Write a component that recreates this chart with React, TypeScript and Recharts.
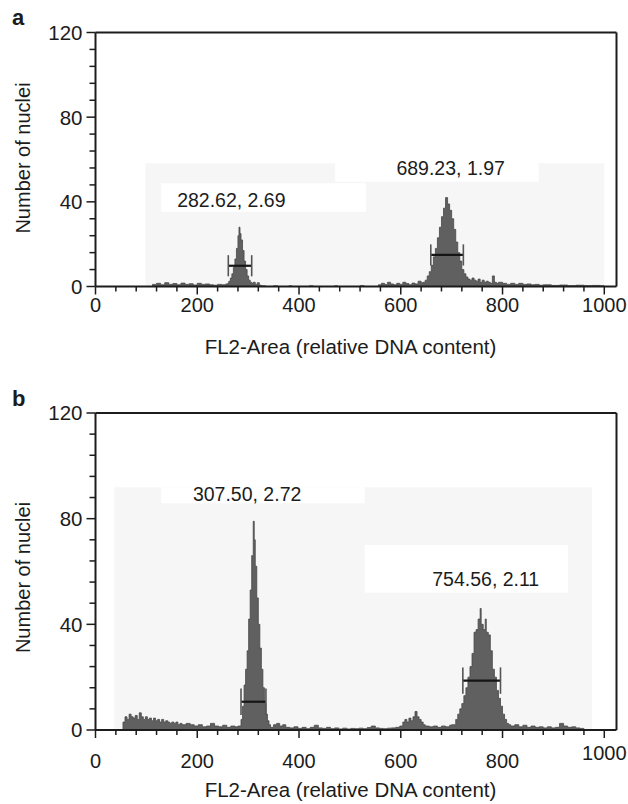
import React from 'react';
import { AreaChart, Area, XAxis, YAxis, ReferenceLine, ReferenceArea, ReferenceDot, Label } from 'recharts';

const FONT = "'Liberation Sans', Arial, Helvetica, sans-serif";
const INK = '#1c1c1c';
const HIST_FILL = '#606060';
const HIST_EDGE = '#474747';
const PANEL_SHADE = '#f6f6f6';

// ---- axes ----
const xTicks = [0, 40, 80, 120, 160, 200, 240, 280, 320, 360, 400, 440, 480, 520, 560, 600, 640, 680, 720, 760, 800, 840, 880, 920, 960, 1000];
const xMajorTicks = [0, 200, 400, 600, 800, 1000];
const yTicks = [0, 8, 16, 24, 32, 40, 48, 56, 64, 72, 80, 88, 96, 104, 112, 120];
const yMajorTicks = [0, 40, 80, 120];
const xTitle = 'FL2-Area (relative DNA content)';
const yTitle = 'Number of nuclei';

// ---- panel a histogram: [channel (bin start), number of nuclei] ----
const histA: [number, number][] = [
  [0, 0], [112, 1], [120, 1.5], [128, 0.8], [136, 1.8], [144, 1], [152, 1.4], [160, 0.8], [168, 1.6], [176, 1],
  [184, 1.3], [192, 0.7], [200, 1.5], [208, 1], [216, 1.2], [224, 0.8], [232, 0.6], [240, 1], [248, 0.8], [256, 1.2],
  [260, 1.5], [262, 2.5], [265, 4], [268, 6], [271, 9], [274, 13], [277, 18], [280, 24], [282, 28], [284, 25],
  [286, 22], [289, 17], [292, 12], [295, 8], [298, 5], [301, 3], [304, 2], [307, 1.5],
  [310, 2], [314, 1], [318, 1.8], [322, 0.6], [326, 0.3], [334, 0], [350, 0.3], [358, 0], [380, 0.3], [386, 0],
  [420, 0.3], [428, 0], [470, 0.3], [476, 0], [520, 0.4], [528, 0], [556, 0.8], [562, 1.5], [568, 1], [574, 2],
  [580, 1.2], [586, 0.8], [592, 1.5], [598, 1], [604, 2], [610, 1.4], [616, 0.8], [622, 1.6], [628, 1.2], [634, 2.5], [640, 1.8],
  [644, 2], [648, 3], [652, 5], [656, 7], [660, 10], [664, 14], [668, 18], [672, 23], [676, 28], [680, 33],
  [684, 37], [688, 42], [692, 39], [696, 36], [700, 32], [704, 27], [708, 21], [712, 16], [716, 12], [720, 8],
  [724, 6], [728, 4.5], [732, 3.5],
  [736, 3], [740, 4], [744, 3], [748, 2.5], [752, 3.5], [756, 2], [760, 3], [764, 2], [768, 2.5], [772, 2],
  [776, 1.5], [780, 5], [784, 2], [788, 1.5], [792, 2], [800, 1.5], [808, 1], [816, 1.5], [824, 1], [832, 1.5],
  [840, 1], [848, 1.2], [856, 0.8], [864, 1], [872, 0.6], [880, 0.8], [896, 0.5], [912, 0.7], [928, 0.4], [944, 0.6],
  [960, 0.4], [976, 0.5], [992, 0.3], [1000, 0],
];

// ---- panel b histogram ----
const histB: [number, number][] = [
  [0, 0], [54, 3], [58, 5], [62, 4], [66, 6], [70, 5], [74, 4.5], [78, 5.5], [82, 4], [86, 6.5],
  [90, 5], [94, 4], [98, 5], [102, 4], [106, 4.5], [110, 3.5], [114, 4.5], [118, 3.5], [122, 4], [126, 3],
  [130, 4], [134, 3], [138, 3.5], [142, 3], [146, 2.5], [150, 3], [154, 2.5], [158, 3], [162, 2], [166, 2.5],
  [170, 2], [178, 2.5], [186, 2], [194, 1.5], [202, 2], [210, 1.2], [218, 1.5], [226, 2.5], [234, 1.5], [242, 1.2],
  [250, 1.8], [258, 1], [266, 1.5], [274, 1.2], [280, 1.5],
  [283, 1.5], [286, 4], [289, 9], [292, 17], [295, 23], [298, 30], [301, 42], [304, 53], [307, 66], [310, 79],
  [312, 72], [314, 62], [317, 50], [320, 40], [323, 31], [326, 23], [329, 16], [332, 10], [335, 6], [338, 3.5],
  [341, 2], [344, 1],
  [350, 2], [356, 2.5], [362, 1.5], [368, 2], [374, 1], [382, 0.8], [390, 1.2], [398, 0.6], [406, 1], [414, 0.5],
  [422, 1], [430, 1.8], [438, 0.8], [446, 0.6], [454, 1], [462, 0.5], [470, 0.8], [478, 0.4], [486, 0.7], [494, 0.4],
  [502, 0.6], [510, 0.5], [518, 0.7], [526, 0.5], [534, 0.9], [542, 1.5], [550, 0.8], [558, 0.6], [566, 0.5], [574, 0.7],
  [582, 0.8], [590, 1], [598, 1.5], [604, 3], [608, 4], [612, 3], [616, 4.5], [620, 3.5], [624, 5], [628, 7],
  [632, 5], [636, 4], [640, 3], [644, 2], [648, 1.5], [656, 1.2], [664, 1.5], [672, 1], [680, 1.5], [688, 1.2],
  [696, 1.8], [700, 2],
  [704, 2], [708, 4], [712, 6], [716, 8], [720, 10], [724, 13], [728, 16], [732, 20], [736, 24], [740, 29],
  [744, 37], [748, 38], [752, 42], [756, 46], [758, 40], [762, 38], [766, 42], [768, 37], [772, 36], [776, 30],
  [780, 23], [784, 20], [788, 15], [792, 12], [796, 9], [800, 6], [804, 4], [808, 2.5], [812, 2],
  [816, 1.5], [824, 2], [832, 1.2], [840, 1.8], [848, 1], [856, 1.5], [864, 1], [872, 1.2], [880, 0.8], [888, 1.2],
  [896, 0.8], [904, 1], [912, 2.5], [920, 1.5], [928, 1], [936, 1.2], [944, 0.8], [952, 0.6], [960, 0],
];

// ---- gate markers (channel range, level) ----
const gatesA = [
  { from: 261, to: 307, level: 9.8 },
  { from: 659, to: 723, level: 14.9 },
];
const gatesB = [
  { from: 286, to: 335, level: 10.7 },
  { from: 722, to: 796, level: 18.7 },
];

// ---- peak annotations (mean channel, CV) ----
const notesA = [
  { text: '282.62, 2.69', channel: 267, count: 40.9 },
  { text: '689.23, 1.97', channel: 698, count: 56 },
];
const notesB = [
  { text: '307.50, 2.72', channel: 298, count: 89.3 },
  { text: '754.56, 2.11', channel: 767, count: 57.2 },
];

// ---- background regions of the scanned plot ----
const shadesA = [
  { x1: 98, x2: 1000, y1: 0, y2: 58.2, kind: 'shade' },
  { x1: 129, x2: 532, y1: 35.3, y2: 48.8, kind: 'blank' },
  { x1: 471, x2: 871, y1: 49.5, y2: 59.8, kind: 'blank' },
];
const shadesB = [
  { x1: 37, x2: 976, y1: 0, y2: 91.9, kind: 'shade' },
  { x1: 129, x2: 529, y1: 85.8, y2: 91.9, kind: 'blank' },
  { x1: 529, x2: 929, y1: 52, y2: 70, kind: 'blank' },
];

type PanelProps = {
  letter: string;
  hist: [number, number][];
  gates: { from: number; to: number; level: number }[];
  notes: { text: string; channel: number; count: number }[];
  shades: { x1: number; x2: number; y1: number; y2: number; kind: string }[];
  top: number;
  height: number;
  marginTop: number;
  marginBottom: number;
  capHalf: number;
  tickLabelDy: number;
  lastLabelLift: number;
  yTitleShift: number;
};

function Panel(props: PanelProps) {
  const { letter, hist, gates, notes, shades, top, height, marginTop, marginBottom, capHalf, tickLabelDy, lastLabelLift, yTitleShift } = props;
  const data = hist.map(([channel, count]) => ({ channel, count }));

  const renderXTick = (p: any) => {
    const v = p.payload.value;
    const major = xMajorTicks.includes(v);
    return (
      <g>
        <line x1={p.x} y1={p.y} x2={p.x} y2={p.y + (major ? 8 : 5)} stroke={INK} strokeWidth={1.5} />
        {major && (
          <text x={p.x} y={p.y + tickLabelDy - (v === 1000 ? lastLabelLift : 0)} textAnchor="middle" fontSize={20} fontFamily={FONT} fill={INK}>
            {v}
          </text>
        )}
      </g>
    );
  };

  const renderYTick = (p: any) => {
    const v = p.payload.value;
    const major = yMajorTicks.includes(v);
    return (
      <g>
        <line x1={p.x - (major ? 9 : 6)} y1={p.y} x2={p.x} y2={p.y} stroke={INK} strokeWidth={1.5} />
        {major && (
          <text x={p.x - 13} y={p.y} dy="0.36em" textAnchor="end" fontSize={20.5} fontFamily={FONT} fill={INK}>
            {v}
          </text>
        )}
      </g>
    );
  };

  const renderYTitle = (p: any) => {
    const vb = p.viewBox || { x: 95.5, y: marginTop, width: 0, height: height - marginTop - marginBottom };
    const cy = vb.y + vb.height / 2 + yTitleShift;
    return (
      <g>
        <text x={12} y={vb.y - 7.5} fontSize={22} fontWeight="bold" fontFamily={FONT} fill={INK}>{letter}</text>
        <text transform={`translate(22.5 ${cy}) rotate(-90)`} textAnchor="middle" dy="0.36em" fontSize={20} fontFamily={FONT} fill={INK}>
          {yTitle}
        </text>
      </g>
    );
  };

  const renderXTitle = (p: any) => {
    const vb = p.viewBox || { x: 95.5, y: height - marginBottom, width: 521, height: 0 };
    return (
      <text x={vb.x + vb.width / 2 - 5.5} y={vb.y + 67} textAnchor="middle" fontSize={20.5} fontFamily={FONT} fill={INK}>
        {xTitle}
      </text>
    );
  };

  return (
    <div style={{ position: 'absolute', left: 0, top, width: 628, height }}>
      <AreaChart width={628} height={height} data={data} margin={{ top: marginTop, right: 11.5, bottom: marginBottom - 1, left: 94.5 }}>
        {shades.map((s, i) => (
          <ReferenceArea
            key={`s${i}`}
            x1={s.x1}
            x2={s.x2}
            y1={s.y1}
            y2={s.y2}
            fill={s.kind === 'shade' ? PANEL_SHADE : '#ffffff'}
            fillOpacity={1}
            stroke="none"
            ifOverflow="visible"
            zIndex={-60}
          />
        ))}
        <XAxis
          dataKey="channel"
          type="number"
          domain={[0, 1024]}
          ticks={xTicks}
          interval={0}
          height={1}
          tickSize={0}
          tickMargin={0}
          tickLine={false}
          tick={renderXTick}
          axisLine={{ stroke: INK, strokeWidth: 2 }}
          allowDataOverflow
        >
          <Label content={renderXTitle} />
        </XAxis>
        <YAxis
          type="number"
          domain={[0, 120]}
          ticks={yTicks}
          interval={0}
          width={1}
          tickSize={0}
          tickMargin={0}
          tickLine={false}
          tick={renderYTick}
          axisLine={{ stroke: INK, strokeWidth: 2 }}
          allowDataOverflow
        >
          <Label content={renderYTitle} />
        </YAxis>
        <Area
          type="stepAfter"
          dataKey="count"
          fill={HIST_FILL}
          fillOpacity={1}
          stroke={HIST_EDGE}
          strokeWidth={0.8}
          dot={false}
          activeDot={false}
          isAnimationActive={false}
        />
        {gates.map((g, i) => (
          <ReferenceLine key={`gh${i}`} segment={[{ x: g.from, y: g.level }, { x: g.to, y: g.level }]} stroke="#151515" strokeWidth={2.2} ifOverflow="visible" />
        ))}
        {gates.map((g, i) => (
          <ReferenceLine key={`gl${i}`} segment={[{ x: g.from, y: g.level - capHalf }, { x: g.from, y: g.level + capHalf }]} stroke="#555555" strokeWidth={1.6} ifOverflow="visible" />
        ))}
        {gates.map((g, i) => (
          <ReferenceLine key={`gr${i}`} segment={[{ x: g.to, y: g.level - capHalf }, { x: g.to, y: g.level + capHalf }]} stroke="#555555" strokeWidth={1.6} ifOverflow="visible" />
        ))}
        <ReferenceLine y={120} stroke={INK} strokeWidth={2} ifOverflow="visible" />
        <ReferenceLine x={1024} stroke={INK} strokeWidth={2} ifOverflow="visible" />
        {notes.map((n, i) => (
          <ReferenceDot
            key={`n${i}`}
            x={n.channel}
            y={n.count}
            r={0}
            fill="none"
            stroke="none"
            ifOverflow="visible"
            label={{ value: n.text, position: 'center', fill: INK, fontSize: 19.5, fontFamily: FONT }}
          />
        ))}
      </AreaChart>
    </div>
  );
}

export default function App() {
  return (
    <div style={{ position: 'absolute', left: 0, top: 0, width: 628, height: 804, background: '#ffffff', fontFamily: FONT, overflow: 'hidden' }}>
      <Panel
        letter="a"
        hist={histA}
        gates={gatesA}
        notes={notesA}
        shades={shadesA}
        top={0}
        height={372}
        marginTop={32.5}
        marginBottom={85.5}
        capHalf={5}
        tickLabelDy={25.7}
        lastLabelLift={0}
        yTitleShift={-1.5}
      />
      <Panel
        letter="b"
        hist={histB}
        gates={gatesB}
        notes={notesB}
        shades={shadesB}
        top={372}
        height={432}
        marginTop={41}
        marginBottom={74}
        capHalf={5}
        tickLabelDy={38}
        lastLabelLift={8}
        yTitleShift={6}
      />
    </div>
  );
}
